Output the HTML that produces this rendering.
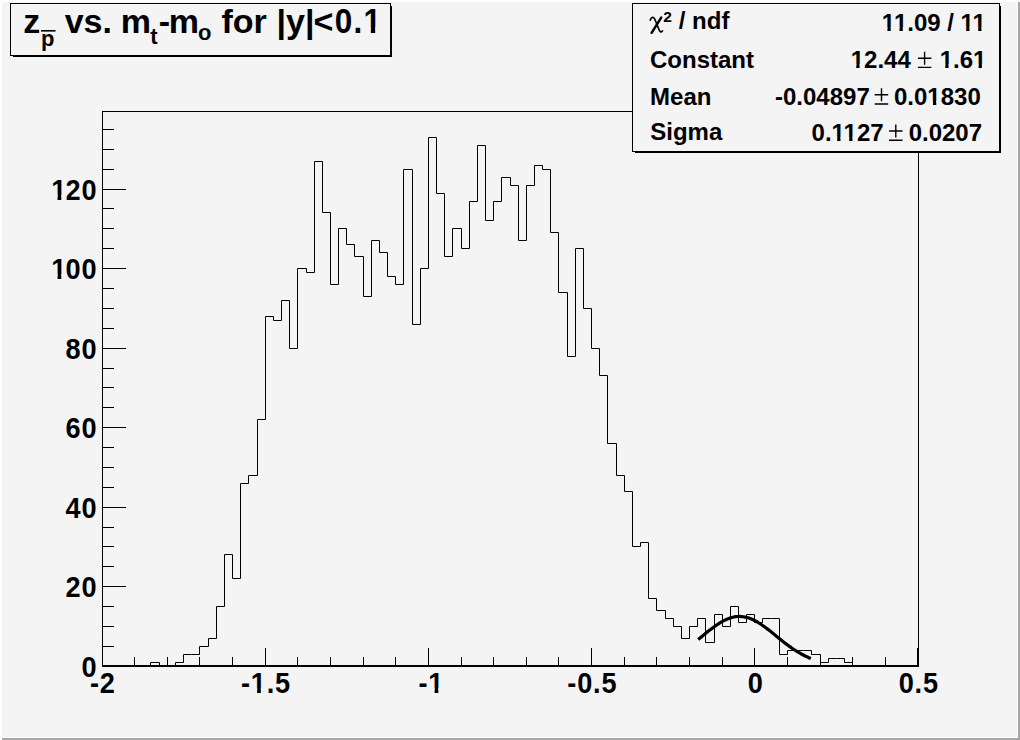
<!DOCTYPE html>
<html><head><meta charset="utf-8"><style>
html,body{margin:0;padding:0;background:#f4f4f4;overflow:hidden;}
svg{display:block;}
text.b{font-family:"Liberation Sans",sans-serif;font-weight:bold;fill:#000;}
</style></head><body>
<svg width="1020" height="740" viewBox="0 0 1020 740">
<rect x="0" y="0" width="1020" height="740" fill="#f4f4f4"/>
<rect x="0" y="0" width="1020" height="2" fill="#fff"/>
<rect x="0" y="0" width="2" height="740" fill="#fff"/>
<rect x="1017" y="2" width="1" height="736" fill="#fff"/>
<rect x="2" y="737" width="1016" height="1" fill="#fff"/>
<rect x="1018" y="2" width="2" height="738" fill="#a6a6a6"/>
<rect x="2" y="738" width="1018" height="2" fill="#a6a6a6"/>
<g fill="#000">
<rect x="102" y="111" width="817" height="1"/>
<rect x="102" y="111" width="1" height="556"/>
<rect x="918" y="111" width="1" height="556"/>
<rect x="102" y="665" width="817" height="2"/>
<rect x="103" y="666" width="23" height="1"/><rect x="103" y="646" width="11" height="1"/><rect x="103" y="626" width="11" height="1"/><rect x="103" y="606" width="11" height="1"/><rect x="103" y="586" width="23" height="1"/><rect x="103" y="566" width="11" height="1"/><rect x="103" y="546" width="11" height="1"/><rect x="103" y="527" width="11" height="1"/><rect x="103" y="507" width="23" height="1"/><rect x="103" y="487" width="11" height="1"/><rect x="103" y="467" width="11" height="1"/><rect x="103" y="447" width="11" height="1"/><rect x="103" y="427" width="23" height="1"/><rect x="103" y="407" width="11" height="1"/><rect x="103" y="387" width="11" height="1"/><rect x="103" y="368" width="11" height="1"/><rect x="103" y="348" width="23" height="1"/><rect x="103" y="328" width="11" height="1"/><rect x="103" y="308" width="11" height="1"/><rect x="103" y="288" width="11" height="1"/><rect x="103" y="268" width="23" height="1"/><rect x="103" y="248" width="11" height="1"/><rect x="103" y="228" width="11" height="1"/><rect x="103" y="208" width="11" height="1"/><rect x="103" y="189" width="23" height="1"/><rect x="103" y="169" width="11" height="1"/><rect x="103" y="149" width="11" height="1"/><rect x="103" y="129" width="11" height="1"/><rect x="102" y="648" width="1" height="17"/><rect x="134" y="657" width="1" height="8"/><rect x="167" y="657" width="1" height="8"/><rect x="199" y="657" width="1" height="8"/><rect x="232" y="657" width="1" height="8"/><rect x="265" y="648" width="1" height="17"/><rect x="297" y="657" width="1" height="8"/><rect x="330" y="657" width="1" height="8"/><rect x="363" y="657" width="1" height="8"/><rect x="395" y="657" width="1" height="8"/><rect x="428" y="648" width="1" height="17"/><rect x="461" y="657" width="1" height="8"/><rect x="493" y="657" width="1" height="8"/><rect x="526" y="657" width="1" height="8"/><rect x="558" y="657" width="1" height="8"/><rect x="591" y="648" width="1" height="17"/><rect x="624" y="657" width="1" height="8"/><rect x="656" y="657" width="1" height="8"/><rect x="689" y="657" width="1" height="8"/><rect x="722" y="657" width="1" height="8"/><rect x="754" y="648" width="1" height="17"/><rect x="787" y="657" width="1" height="8"/><rect x="820" y="657" width="1" height="8"/><rect x="852" y="657" width="1" height="8"/><rect x="885" y="657" width="1" height="8"/><rect x="917" y="648" width="1" height="17"/>
</g>
<path d="M102.5,666.5 L102.5,666.5 L110.5,666.5 L110.5,666.5 L118.5,666.5 L118.5,666.5 L126.5,666.5 L126.5,666.5 L134.5,666.5 L134.5,666.5 L142.5,666.5 L142.5,666.5 L150.5,666.5 L150.5,662.5 L159.5,662.5 L159.5,666.5 L167.5,666.5 L167.5,666.5 L175.5,666.5 L175.5,662.5 L183.5,662.5 L183.5,654.5 L191.5,654.5 L191.5,654.5 L199.5,654.5 L199.5,646.5 L208.5,646.5 L208.5,638.5 L216.5,638.5 L216.5,606.5 L224.5,606.5 L224.5,554.5 L232.5,554.5 L232.5,578.5 L240.5,578.5 L240.5,483.5 L248.5,483.5 L248.5,475.5 L257.5,475.5 L257.5,419.5 L265.5,419.5 L265.5,316.5 L273.5,316.5 L273.5,320.5 L281.5,320.5 L281.5,300.5 L289.5,300.5 L289.5,348.5 L297.5,348.5 L297.5,268.5 L306.5,268.5 L306.5,272.5 L314.5,272.5 L314.5,161.5 L322.5,161.5 L322.5,212.5 L330.5,212.5 L330.5,284.5 L338.5,284.5 L338.5,228.5 L346.5,228.5 L346.5,244.5 L354.5,244.5 L354.5,256.5 L363.5,256.5 L363.5,296.5 L371.5,296.5 L371.5,240.5 L379.5,240.5 L379.5,252.5 L387.5,252.5 L387.5,276.5 L395.5,276.5 L395.5,284.5 L403.5,284.5 L403.5,169.5 L412.5,169.5 L412.5,324.5 L420.5,324.5 L420.5,268.5 L428.5,268.5 L428.5,137.5 L436.5,137.5 L436.5,193.5 L444.5,193.5 L444.5,256.5 L452.5,256.5 L452.5,228.5 L461.5,228.5 L461.5,248.5 L469.5,248.5 L469.5,201.5 L477.5,201.5 L477.5,145.5 L485.5,145.5 L485.5,220.5 L493.5,220.5 L493.5,201.5 L501.5,201.5 L501.5,177.5 L510.5,177.5 L510.5,185.5 L518.5,185.5 L518.5,240.5 L526.5,240.5 L526.5,185.5 L534.5,185.5 L534.5,165.5 L542.5,165.5 L542.5,169.5 L550.5,169.5 L550.5,232.5 L558.5,232.5 L558.5,292.5 L567.5,292.5 L567.5,356.5 L575.5,356.5 L575.5,248.5 L583.5,248.5 L583.5,308.5 L591.5,308.5 L591.5,348.5 L599.5,348.5 L599.5,375.5 L607.5,375.5 L607.5,443.5 L616.5,443.5 L616.5,475.5 L624.5,475.5 L624.5,491.5 L632.5,491.5 L632.5,546.5 L640.5,546.5 L640.5,542.5 L648.5,542.5 L648.5,598.5 L656.5,598.5 L656.5,610.5 L665.5,610.5 L665.5,618.5 L673.5,618.5 L673.5,626.5 L681.5,626.5 L681.5,638.5 L689.5,638.5 L689.5,626.5 L697.5,626.5 L697.5,618.5 L705.5,618.5 L705.5,642.5 L714.5,642.5 L714.5,614.5 L722.5,614.5 L722.5,626.5 L730.5,626.5 L730.5,606.5 L738.5,606.5 L738.5,622.5 L746.5,622.5 L746.5,614.5 L754.5,614.5 L754.5,622.5 L762.5,622.5 L762.5,618.5 L771.5,618.5 L771.5,618.5 L779.5,618.5 L779.5,654.5 L787.5,654.5 L787.5,650.5 L795.5,650.5 L795.5,650.5 L803.5,650.5 L803.5,650.5 L811.5,650.5 L811.5,654.5 L820.5,654.5 L820.5,662.5 L828.5,662.5 L828.5,658.5 L836.5,658.5 L836.5,658.5 L844.5,658.5 L844.5,662.5 L852.5,662.5 L852.5,666.5 L860.5,666.5 L860.5,666.5 L869.5,666.5 L869.5,666.5 L877.5,666.5 L877.5,666.5 L885.5,666.5 L885.5,666.5 L893.5,666.5 L893.5,666.5 L901.5,666.5 L901.5,666.5 L909.5,666.5 L909.5,666.5 L918.5,666.5 L918.5,666.5" fill="none" stroke="#000" stroke-width="1"/>
<path d="M698.18,639.45 L700.06,637.93 L701.93,636.41 L703.81,634.88 L705.69,633.35 L707.56,631.84 L709.44,630.35 L711.32,628.90 L713.19,627.48 L715.07,626.12 L716.95,624.81 L718.82,623.57 L720.70,622.40 L722.58,621.32 L724.46,620.33 L726.33,619.45 L728.21,618.66 L730.09,617.99 L731.96,617.44 L733.84,617.00 L735.72,616.69 L737.59,616.51 L739.47,616.46 L741.35,616.53 L743.22,616.74 L745.10,617.07 L746.98,617.52 L748.85,618.09 L750.73,618.78 L752.61,619.58 L754.48,620.49 L756.36,621.49 L758.24,622.59 L760.11,623.76 L761.99,625.02 L763.87,626.33 L765.74,627.71 L767.62,629.13 L769.50,630.60 L771.38,632.09 L773.25,633.60 L775.13,635.13 L777.01,636.66 L778.88,638.18 L780.76,639.70 L782.64,641.20 L784.51,642.67 L786.39,644.11 L788.27,645.51 L790.14,646.88 L792.02,648.20 L793.90,649.47 L795.77,650.69 L797.65,651.85 L799.53,652.96 L801.40,654.02 L803.28,655.01 L805.16,655.95 L807.03,656.83 L808.91,657.66 L810.79,658.43" fill="none" stroke="#000" stroke-width="3.2"/>
<g transform="translate(81.40,676.90) scale(0.92,1)"><text x="0.00" y="0" class="b" style="font-size:29.5px;letter-spacing:0.870px">0</text></g>
<g transform="translate(65.50,596.90) scale(0.92,1)"><text x="0.00" y="0" class="b" style="font-size:29.5px;letter-spacing:0.870px">20</text></g>
<g transform="translate(65.50,517.90) scale(0.92,1)"><text x="0.00" y="0" class="b" style="font-size:29.5px;letter-spacing:0.870px">40</text></g>
<g transform="translate(65.50,437.90) scale(0.92,1)"><text x="0.00" y="0" class="b" style="font-size:29.5px;letter-spacing:0.870px">60</text></g>
<g transform="translate(65.50,358.90) scale(0.92,1)"><text x="0.00" y="0" class="b" style="font-size:29.5px;letter-spacing:0.870px">80</text></g>
<g transform="translate(49.61,278.90) scale(0.92,1)"><text x="1.77" y="0" class="b" style="font-size:29.5px;letter-spacing:0.870px">1<tspan dx="-1.77">00</tspan></text><rect x="2.66" y="-4.72" width="5.97" height="6.49" fill="#f4f4f4"/><rect x="12.70" y="-4.72" width="5.61" height="6.49" fill="#f4f4f4"/></g>
<g transform="translate(49.61,199.90) scale(0.92,1)"><text x="1.77" y="0" class="b" style="font-size:29.5px;letter-spacing:0.870px">1<tspan dx="-1.77">20</tspan></text><rect x="2.66" y="-4.72" width="5.97" height="6.49" fill="#f4f4f4"/><rect x="12.70" y="-4.72" width="5.61" height="6.49" fill="#f4f4f4"/></g>
<g transform="translate(90.04,692.90) scale(0.92,1)"><text x="0.00" y="0" class="b" style="font-size:29.5px;letter-spacing:0.870px">-2</text></g>
<g transform="translate(240.96,692.90) scale(0.92,1)"><text x="0.00" y="0" class="b" style="font-size:29.5px;letter-spacing:0.870px">-1.5</text><rect x="11.58" y="-4.72" width="5.97" height="6.49" fill="#f4f4f4"/><rect x="21.62" y="-4.72" width="5.61" height="6.49" fill="#f4f4f4"/></g>
<g transform="translate(418.42,692.90) scale(0.92,1)"><text x="0.00" y="0" class="b" style="font-size:29.5px;letter-spacing:0.870px">-1</text><rect x="11.58" y="-4.72" width="5.97" height="6.49" fill="#f4f4f4"/><rect x="21.62" y="-4.72" width="5.61" height="6.49" fill="#f4f4f4"/></g>
<g transform="translate(567.36,692.90) scale(0.92,1)"><text x="0.00" y="0" class="b" style="font-size:29.5px;letter-spacing:0.870px">-0.5</text></g>
<g transform="translate(747.76,692.90) scale(0.92,1)"><text x="0.00" y="0" class="b" style="font-size:29.5px;letter-spacing:0.870px">0</text></g>
<g transform="translate(898.68,692.90) scale(0.92,1)"><text x="0.00" y="0" class="b" style="font-size:29.5px;letter-spacing:0.870px">0.5</text></g>

<rect x="13" y="56" width="379" height="1" fill="#000"/>
<rect x="391" y="6" width="1" height="51" fill="#000"/>
<rect x="10.5" y="3.5" width="380" height="52" fill="#f4f4f4" stroke="#000" stroke-width="1"/>
<g transform="translate(23.14,33.00)"><text x="0.00" y="0" class="b" style="font-size:34px">z</text></g>
<g transform="translate(40.95,45.50)"><text x="0.00" y="0" class="b" style="font-size:22px">p</text></g>
<rect x="41" y="30" width="14.5" height="1.6" fill="#000"/>
<g transform="translate(64.66,33.00)"><text x="0.00" y="0" class="b" style="font-size:34px">vs.</text></g>
<g transform="translate(120.66,33.00)"><text x="0.00" y="0" class="b" style="font-size:34px">m</text></g>
<g transform="translate(150.14,44.00)"><text x="0.00" y="0" class="b" style="font-size:22px">t</text></g>
<g transform="translate(158.84,33.00)"><text x="0.00" y="0" class="b" style="font-size:34px">-</text></g>
<g transform="translate(168.76,33.00)"><text x="0.00" y="0" class="b" style="font-size:34px">m</text></g>
<g transform="translate(198.02,40.30)"><text x="0.00" y="0" class="b" style="font-size:22px">o</text></g>
<g transform="translate(221.39,33.00)"><text x="0.00" y="0" class="b" style="font-size:34px">for</text></g>
<g transform="translate(276.52,33.00)"><text x="0.00" y="0" class="b" style="font-size:34px">|y|</text></g>
<g transform="translate(313.57,33.00)"><text x="0.00" y="0" class="b" style="font-size:34px">&lt;</text></g>
<g transform="translate(334.84,33.10) scale(0.9,1)"><text x="0.00" y="0" class="b" style="font-size:35px;letter-spacing:1.333px">0.1</text><rect x="32.91" y="-5.60" width="7.09" height="7.70" fill="#f4f4f4"/><rect x="44.82" y="-5.60" width="6.65" height="7.70" fill="#f4f4f4"/></g>

<rect x="635" y="152" width="366" height="1" fill="#000"/>
<rect x="1000" y="6" width="1" height="147" fill="#000"/>
<rect x="632.5" y="3.5" width="367" height="148" fill="#f4f4f4" stroke="#000" stroke-width="1"/>
<g transform="translate(649.99,68.00)"><text x="0.00" y="0" class="b" style="font-size:24px">Constant</text></g>
<g transform="translate(650.12,104.70)"><text x="0.00" y="0" class="b" style="font-size:24px">Mean</text></g>
<g transform="translate(650.28,140.00)"><text x="0.00" y="0" class="b" style="font-size:24px">Sigma</text></g>
<g transform="translate(678.76,29.00)"><text x="0.00" y="0" class="b" style="font-size:24px">/ ndf</text></g>
<g transform="translate(663.27,21.70)"><text x="0.00" y="0" class="b" style="font-size:15.5px">2</text></g>
<path d="M650.3,20.2 C650.8,17.6 653.2,16.2 654.6,18.8 L659.2,30 C660.1,32.4 661.4,32.6 662.4,30.8" stroke="#000" stroke-width="1.7" fill="none" stroke-linecap="round"/>
<path d="M661.2,17.6 L651.6,32.8" stroke="#000" stroke-width="2.5" fill="none" stroke-linecap="round"/>
<g transform="translate(881.86,31.00)"><text x="0.00" y="0" class="b" style="font-size:24px">11.09 / 11</text><rect x="0.72" y="-3.84" width="4.86" height="5.28" fill="#f4f4f4"/><rect x="8.89" y="-3.84" width="4.56" height="5.28" fill="#f4f4f4"/><rect x="12.74" y="-3.84" width="4.86" height="5.28" fill="#f4f4f4"/><rect x="20.92" y="-3.84" width="4.56" height="5.28" fill="#f4f4f4"/><rect x="79.46" y="-3.84" width="4.86" height="5.28" fill="#f4f4f4"/><rect x="87.63" y="-3.84" width="4.56" height="5.28" fill="#f4f4f4"/><rect x="91.48" y="-3.84" width="4.86" height="5.28" fill="#f4f4f4"/><rect x="99.65" y="-3.84" width="4.56" height="5.28" fill="#f4f4f4"/></g>
<g transform="translate(850.69,68.00)"><text x="0.00" y="0" class="b" style="font-size:24px">12.44</text><rect x="0.72" y="-3.84" width="4.86" height="5.28" fill="#f4f4f4"/><rect x="8.89" y="-3.84" width="4.56" height="5.28" fill="#f4f4f4"/></g>
<path d="M917.9,58.2 H931.4 M924.6,51.7 V64.7 M917.9,67.4 H931.4" stroke="#000" stroke-width="1.4" fill="none"/>
<g transform="translate(939.66,68.00)"><text x="0.00" y="0" class="b" style="font-size:24px">1.61</text><rect x="0.72" y="-3.84" width="4.86" height="5.28" fill="#f4f4f4"/><rect x="8.89" y="-3.84" width="4.56" height="5.28" fill="#f4f4f4"/><rect x="34.08" y="-3.84" width="4.86" height="5.28" fill="#f4f4f4"/><rect x="42.26" y="-3.84" width="4.56" height="5.28" fill="#f4f4f4"/></g>
<g transform="translate(775.01,104.80)"><text x="0.00" y="0" class="b" style="font-size:24px">-0.04897</text></g>
<path d="M874.7,94.8 H888.2 M881.5,88.3 V101.3 M874.7,104.0 H888.2" stroke="#000" stroke-width="1.4" fill="none"/>
<g transform="translate(894.01,104.80)"><text x="0.00" y="0" class="b" style="font-size:24px">0.01830</text><rect x="34.08" y="-3.84" width="4.86" height="5.28" fill="#f4f4f4"/><rect x="42.26" y="-3.84" width="4.56" height="5.28" fill="#f4f4f4"/></g>
<g transform="translate(811.58,141.00)"><text x="0.00" y="0" class="b" style="font-size:24px">0.1127</text><rect x="20.74" y="-3.84" width="4.86" height="5.28" fill="#f4f4f4"/><rect x="28.91" y="-3.84" width="4.56" height="5.28" fill="#f4f4f4"/><rect x="32.76" y="-3.84" width="4.86" height="5.28" fill="#f4f4f4"/><rect x="40.93" y="-3.84" width="4.56" height="5.28" fill="#f4f4f4"/></g>
<path d="M889.0,131.0 H902.5 M895.8,124.5 V137.5 M889.0,140.2 H902.5" stroke="#000" stroke-width="1.4" fill="none"/>
<g transform="translate(908.65,141.00)"><text x="0.00" y="0" class="b" style="font-size:24px">0.0207</text></g>

</svg>
</body></html>
